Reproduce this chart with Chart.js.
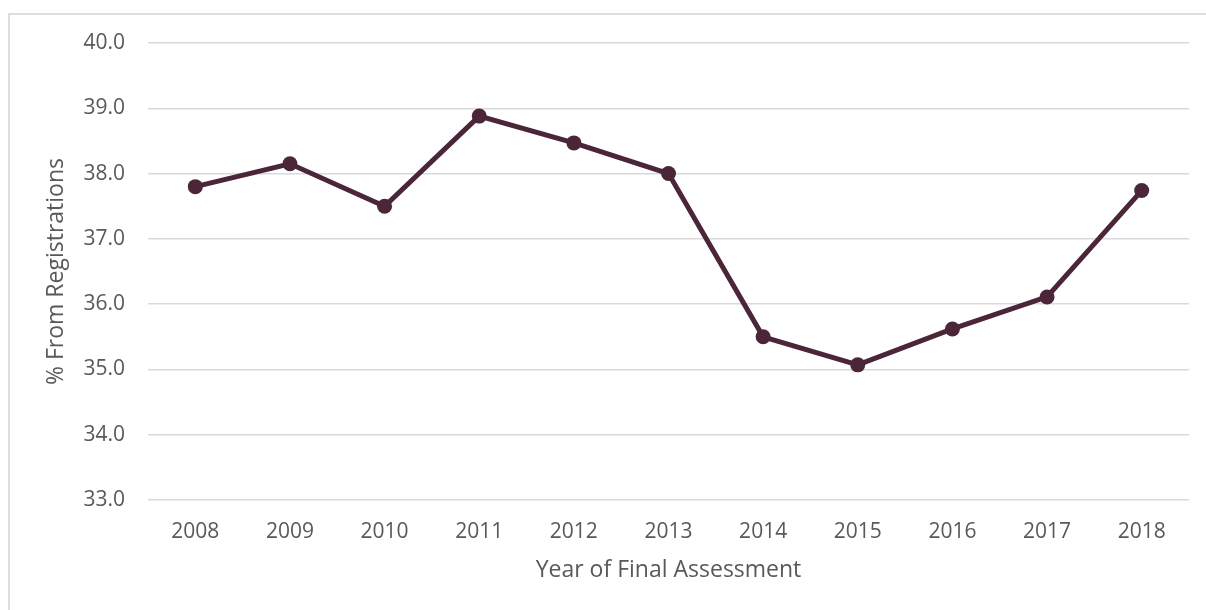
<!DOCTYPE html>
<html>
<head>
<meta charset="utf-8">
<script src="https://cdn.jsdelivr.net/npm/chart.js@4.4.1/dist/chart.umd.min.js"></script>
<style>
    html, body { margin: 0; padding: 0; background: #ffffff; }
    #wrap { position: relative; width: 1206px; height: 610px; overflow: hidden; }
    #frame {
        position: absolute; left: 8px; top: 13px; width: 1300px; height: 700px;
        border-top: 2px solid #dedede; border-left: 2px solid #dedede;
        pointer-events: none;
    }
    canvas { position: absolute; left: 0; top: 0; }
</style>
</head>
<body>
<div id="wrap">
    <div id="frame"></div>
    <canvas id="lineChart" width="1206" height="610"></canvas>
</div>
<script>
// Values
const years = ['2008', '2009', '2010', '2011', '2012', '2013', '2014', '2015', '2016', '2017', '2018'];
const pctFromRegistrations = [37.8, 38.15, 37.5, 38.88, 38.47, 38.0, 35.5, 35.07, 35.62, 36.11, 37.74];
const yTicks = [33, 34, 35, 36, 37, 38, 39, 40];

const lineColor = '#4b2639';
const textColor = '#595959';
const fontFamily = '"Open Sans", "Noto Sans", sans-serif';

document.addEventListener('DOMContentLoaded', function () {
    const ctx = document.getElementById('lineChart').getContext('2d');
    const lineChart = new Chart(ctx, {
        type: 'line',
        data: {
            labels: years,
            datasets: [{
                label: '% From Registrations',
                data: pctFromRegistrations,
                borderColor: lineColor,
                backgroundColor: lineColor,
                borderWidth: 5,
                pointRadius: 7.5,
                pointHoverRadius: 7.5,
                pointBorderWidth: 0,
                tension: 0,
                fill: false
            }]
        },
        options: {
            responsive: false,
            animation: false,
            layout: {
                padding: { top: 43, right: 17, left: 0, bottom: 0 }
            },
            plugins: {
                legend: { display: false },
                tooltip: { enabled: false }
            },
            scales: {
                x: {
                    offset: true,
                    grid: { display: false, drawTicks: false },
                    border: { display: false },
                    ticks: {
                        color: textColor,
                        padding: 19,
                        font: { family: fontFamily, size: 21 }
                    },
                    title: {
                        display: true,
                        text: 'Year of Final Assessment',
                        color: textColor,
                        font: { family: fontFamily, size: 23 },
                        padding: { top: 0, bottom: 26 }
                    },
                    afterFit: function (scale) {
                        scale.height = 110;
                    }
                },
                y: {
                    min: 33,
                    max: 40,
                    afterBuildTicks: function (scale) {
                        scale.ticks = yTicks.map(v => ({ value: v }));
                    },
                    grid: {
                        color: '#d9d9d9',
                        lineWidth: 1.5,
                        drawTicks: false
                    },
                    border: { display: false },
                    ticks: {
                        color: textColor,
                        padding: 23,
                        font: { family: fontFamily, size: 21 },
                        callback: function (value) {
                            return Number(value).toFixed(1);
                        }
                    },
                    title: {
                        display: true,
                        text: '% From Registrations',
                        color: textColor,
                        font: { family: fontFamily, size: 23 },
                        padding: { top: 43, bottom: 0 }
                    },
                    afterFit: function (scale) {
                        scale.width = 148;
                    }
                }
            }
        }
    });
});
</script>
</body>
</html>
